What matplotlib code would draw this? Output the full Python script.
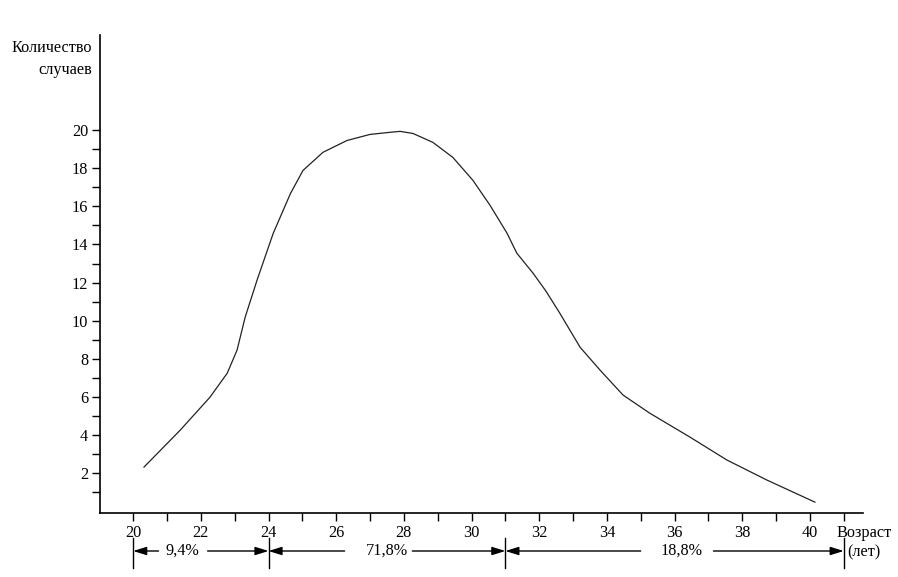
import matplotlib
matplotlib.use("Agg")
import matplotlib.pyplot as plt
from matplotlib.ticker import FixedLocator
import matplotlib.transforms as mtransforms

plt.rcParams['font.family'] = ['Liberation Serif', 'DejaVu Serif']

# Data
age = [20.32, 21.39, 22.27, 22.78, 23.07, 23.31, 23.66, 24.14, 24.65, 25.02,
       25.61, 26.32, 27.00, 27.59, 27.89, 28.27, 28.86, 29.45, 30.04, 30.55,
       31.05, 31.34, 31.82, 32.20, 32.61, 33.21, 33.80, 34.48, 35.27, 36.46,
       37.55, 38.73, 40.15]
cases = [2.31, 4.25, 5.98, 7.24, 8.45, 10.18, 12.12, 14.59, 16.68, 17.89,
         18.84, 19.46, 19.78, 19.89, 19.94, 19.83, 19.36, 18.57, 17.37, 16.05,
         14.59, 13.54, 12.49, 11.55, 10.39, 8.60, 7.40, 6.09, 5.14, 3.88,
         2.68, 1.63, 0.47]

y_major = [2, 4, 6, 8, 10, 12, 14, 16, 18, 20]
y_minor = [1, 3, 5, 7, 9, 11, 13, 15, 17, 19]
x_major = [20, 22, 24, 26, 28, 30, 32, 34, 36, 38, 40]
x_minor = [21, 23, 25, 27, 29, 31, 33, 35, 37, 39, 41]

# Percentage intervals: (start, end, label, label centre)
intervals = [(20, 24, "9,4%", 21.45), (24, 31, "71,8%", 27.5), (31, 41, "18,8%", 36.2)]
gaps = [(0.7, 0.75), (1.25, 0.75), (1.2, 0.95)]  # half-gaps around labels (left, right)

y_label = ["Количество", "случаев"]
x_label = ["Возраст", "(лет)"]

FS = 11.7

fig = plt.figure(figsize=(8.98, 5.77), dpi=100)
ax = fig.add_axes([100/898, 64/577, 763/898, 478/577])
ax.plot(age, cases, color='#222222', linewidth=0.9, solid_joinstyle='round')

ax.set_xlim(19.02, 41.57)
ax.set_ylim(-0.1, 25)
for s in ['top', 'right']:
    ax.spines[s].set_visible(False)
for s in ['left', 'bottom']:
    ax.spines[s].set_linewidth(1.2)

ax.yaxis.set_major_locator(FixedLocator(y_major))
ax.yaxis.set_minor_locator(FixedLocator(y_minor))
ax.xaxis.set_major_locator(FixedLocator(x_major))
ax.xaxis.set_minor_locator(FixedLocator(x_minor))
ax.tick_params(which='both', direction='out', length=5.5, width=1.0, colors='black')
ax.tick_params(axis='both', which='major', labelsize=FS, pad=3)
ax.set_yticklabels([str(v) for v in y_major])
ax.set_xticklabels([str(v) for v in x_major])

trans = mtransforms.blended_transform_factory(ax.transData, ax.transAxes)
yarr = -0.0795
# vertical markers
for xv in [20, 24, 31, 41]:
    ax.plot([xv, xv], [-0.052, -0.115], transform=trans, color='black',
            linewidth=1.0, clip_on=False)

for (a, b, lab, c), (gl, gr) in zip(intervals, gaps):
    ax.text(c, yarr, lab, transform=trans, ha='center', va='center', fontsize=FS)
    for tip, tail in [(a, c - gl), (b, c + gr)]:
        ax.annotate('', xy=(tip, yarr), xytext=(tail, yarr),
                    xycoords=trans, textcoords=trans,
                    arrowprops=dict(arrowstyle='-|>,head_length=0.8,head_width=0.25',
                                    color='black', linewidth=1.0,
                                    shrinkA=0, shrinkB=0, mutation_scale=10),
                    annotation_clip=False)

fig.text(92/898, 1 - 48/577, y_label[0], ha='right', va='center', fontsize=FS)
fig.text(92/898, 1 - 70/577, y_label[1], ha='right', va='center', fontsize=FS)
fig.text(836/898, 1 - 533/577, x_label[0], ha='left', va='center', fontsize=FS)
fig.text(847/898, 1 - 552/577, x_label[1], ha='left', va='center', fontsize=FS)

fig.savefig("out.png", dpi=100)
